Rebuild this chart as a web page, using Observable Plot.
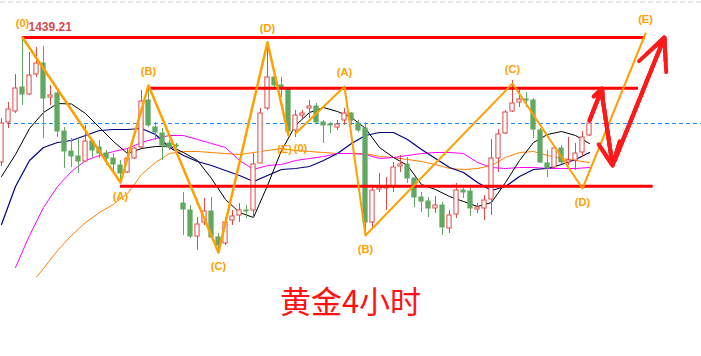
<!DOCTYPE html>
<html><head><meta charset="utf-8">
<script src="https://cdn.jsdelivr.net/npm/d3@7"></script>
<script src="https://cdn.jsdelivr.net/npm/@observablehq/plot@0.6"></script>
<style>
body{margin:0;background:#fff;width:701px;height:356px;overflow:hidden}
#title{width:701px;text-align:center;font-family:"Noto Sans CJK SC",sans-serif;font-size:31px;color:#ff1111;line-height:30px;padding-top:5px}
</style></head><body>
<div id="chart"></div>
<div id="title">黄金4小时</div>
<script>
// 4-hour gold candles (price units)
const opens = [1389.2,1405.2,1409.6,1419.2,1416.4,1424.4,1428.8,1415.2,1416.8,1401.6,
 1393.6,1391.6,1389.6,1397.6,1395.2,1392.8,1390.8,1388.0,1385.2,1390.8,
 1395.2,1414.0,1403.2,1400.8,1396.8,1396.0,1372.8,1370.0,1359.6,1365.2,
 1369.6,1359.2,1356.8,1366.0,1368.0,1370.0,1370.0,1388.8,1410.8,1423.2,
 1420.0,1418.8,1402.0,1408.0,1410.8,1411.6,1405.2,1404.4,1403.2,1406.0,
 1408.8,1404.8,1402.8,1365.2,1378.4,1378.8,1379.6,1387.6,1388.4,1382.8,
 1375.2,1373.6,1370.8,1372.0,1362.8,1368.4,1378.0,1377.6,1370.4,1370.8,
 1374.4,1390.8,1400.8,1409.6,1413.2,1414.4,1414.0,1402.0,1388.8,1387.2,
 1394.8,1389.2,1390.0,1393.2,1400.0];
const highs = [1406.8,1413.2,1424.4,1439.21,1433.2,1435.2,1435.6,1420.0,1418.0,1403.2,
 1398.8,1398.8,1404.0,1398.0,1398.0,1394.0,1392.8,1390.0,1394.8,1395.2,
 1418.0,1420.0,1405.2,1402.8,1398.0,1396.8,1377.2,1372.0,1367.2,1374.8,
 1375.2,1360.8,1367.2,1370.0,1372.8,1372.0,1392.8,1410.8,1437.2,1424.8,
 1423.2,1419.2,1410.0,1410.0,1414.0,1412.8,1406.0,1405.2,1406.0,1410.8,
 1409.2,1406.0,1405.2,1380.0,1384.8,1383.2,1389.2,1392.0,1391.2,1383.2,
 1377.2,1375.2,1375.6,1373.2,1370.0,1380.8,1378.8,1378.8,1372.8,1376.0,
 1398.4,1402.4,1410.0,1422.0,1418.0,1417.2,1414.8,1402.8,1394.0,1395.2,
 1396.0,1399.2,1396.8,1401.6,1405.2];
const lows = [1387.6,1402.8,1408.8,1412.0,1416.0,1423.2,1398.8,1412.0,1399.2,1386.8,
 1387.2,1384.8,1389.2,1391.2,1390.8,1388.0,1385.2,1381.2,1384.8,1390.4,
 1394.8,1403.2,1398.0,1390.0,1394.0,1394.8,1360.0,1358.8,1354.0,1364.0,
 1358.8,1354.0,1356.0,1364.0,1365.2,1366.8,1366.8,1388.8,1410.0,1418.8,
 1415.2,1400.0,1399.2,1406.8,1406.8,1404.8,1396.8,1400.8,1402.0,1404.0,
 1404.0,1401.2,1361.2,1363.2,1377.2,1370.0,1377.2,1385.2,1380.8,1371.2,
 1369.2,1367.2,1368.8,1360.0,1360.8,1366.8,1374.8,1367.6,1368.8,1366.0,
 1368.0,1385.2,1400.4,1409.2,1411.2,1411.2,1398.8,1388.8,1383.2,1386.8,
 1388.4,1388.0,1386.0,1391.2,1399.6];
const closes = [1404.8,1410.4,1418.8,1416.4,1424.0,1428.8,1414.8,1416.0,1401.6,1393.6,
 1391.6,1389.6,1397.6,1394.0,1392.8,1390.8,1388.4,1384.8,1390.8,1394.8,
 1413.6,1404.0,1401.2,1396.0,1395.2,1395.6,1370.4,1359.6,1364.4,1369.6,
 1359.2,1356.0,1365.2,1367.6,1370.0,1369.6,1388.4,1408.8,1423.2,1420.0,
 1418.8,1401.6,1408.0,1408.8,1411.6,1405.2,1404.0,1404.0,1404.4,1408.8,
 1406.0,1402.0,1365.2,1378.0,1379.2,1379.6,1387.2,1388.4,1382.8,1375.2,
 1373.6,1370.8,1372.0,1363.2,1368.0,1378.0,1377.2,1370.8,1371.2,1374.0,
 1390.8,1400.4,1409.2,1412.8,1414.4,1414.0,1402.4,1389.2,1386.8,1394.8,
 1389.2,1390.0,1392.8,1399.2,1404.8];

// moving averages, read every second candle
const maBlackIdx = d3.range(0, 85, 2);
const maBlack = [1383.6,1392.4,1402.8,1409.2,1412.8,1412.6,1408.8,1403.2,1397.6,1392.8,
 1394.8,1395.6,1395.8,1393.2,1390.0,1382.8,1374.4,1369.2,1367.2,1380.0,
 1394.0,1404.0,1409.2,1411.2,1409.6,1407.2,1402.8,1395.2,1391.2,1388.0,
 1380.4,1378.4,1375.6,1373.6,1371.6,1373.2,1381.2,1390.0,1397.2,1400.4,
 1401.6,1400.0,1396.8];
const maNavyIdx = d3.range(0, 85, 2);
const maNavy = [1364.4,1379.6,1390.0,1395.2,1397.2,1398.0,1400.0,1402.0,1402.4,1402.4,
 1402.8,1400.4,1395.2,1392.0,1389.6,1388.0,1386.0,1384.0,1381.6,1384.0,
 1386.4,1386.8,1387.6,1390.0,1392.8,1396.8,1400.0,1401.2,1401.2,1398.4,
 1394.4,1390.8,1387.2,1385.2,1381.2,1378.0,1379.6,1383.6,1386.4,1386.8,
 1388.4,1390.4,1393.2];
const maMagentaIdx = d3.range(2, 85, 2);
const maMagenta = [1347.2,1360.0,1371.2,1379.6,1385.6,1390.0,1392.0,1393.6,1394.8,1397.2,
 1398.8,1400.0,1400.0,1398.4,1396.8,1395.2,1390.0,1386.4,1388.0,1388.4,
 1390.0,1390.8,1391.6,1392.8,1392.8,1392.4,1390.8,1391.2,1392.0,1392.8,
 1393.2,1393.2,1392.8,1389.2,1387.2,1386.8,1387.2,1387.2,1386.8,1386.8,
 1386.8,1387.2];
const maOrangeIdx = [5, ...d3.range(6, 85, 2)];
const maOrange = [1343.4,1346.8,1354.0,1360.0,1365.2,1369.2,1372.5,1376.8,1384.4,1389.2,
 1392.8,1393.6,1393.6,1393.2,1392.8,1392.4,1393.2,1394.0,1394.8,1394.0,
 1393.6,1393.2,1392.8,1392.8,1392.8,1391.6,1391.2,1390.4,1389.6,1388.4,
 1386.8,1386.4,1386.8,1388.0,1391.2,1393.2,1393.6,1392.0,1390.8,1390.0,
 1389.2];

// wave patterns
const waveLabels = ["(0)","(A)","(B)","(C)","(D)","(E)"];
const wave1Idx = [3, 17, 21, 31, 38, 41];
const wave1Price = [1439.21, 1381.2, 1420.0, 1353.2, 1437.3, 1400.0];
const wave1Pos = ["above","below","above","below","above","belowLeft"];
const wave2Idx = [42, 49, 52, 73, 83, 92];
const wave2Price = [1400.8, 1419.6, 1360.0, 1420.8, 1378.8, 1440.8];
const wave2Pos = ["belowRight","above","below","above","below","above"];

// horizontal levels
const levelPrice = [1439.21, 1418.9, 1379.7];
const levelFrom = [3, 21, 17];
const levelTo = [92, 91, 93.1];
const lastPrice = 1404.8;
const topBorder = 1453.4;
const highLabel = "1439.21";

// forecast arrows
const arrowFromIdx = [84, 85.7, 87.6];
const arrowFromPrice = [1406.0, 1418.0, 1390.0];
const arrowToIdx = [85.8, 87.3, 94.7];
const arrowToPrice = [1418.8, 1388.0, 1439.2];

const candles = opens.map((o, i) => ({i, open: o, high: highs[i], low: lows[i], close: closes[i], up: closes[i] >= o}));
const ma = (idx, vals) => idx.map((i, k) => ({i, v: vals[k]}));
const wave = (idx, pr, pos) => idx.map((i, k) => ({i, p: pr[k], label: waveLabels[k], pos: pos[k]}));
const w1 = wave(wave1Idx, wave1Price, wave1Pos);
const w2 = wave(wave2Idx, wave2Price, wave2Pos);
const waves = [...w1, ...w2];
const levels = levelPrice.map((p, k) => ({p, from: levelFrom[k], to: levelTo[k]}));
const arrows = arrowFromIdx.map((a, k) => ({x1: a, y1: arrowFromPrice[k], x2: arrowToIdx[k], y2: arrowToPrice[k]}));

const RED = "#e04848", GREEN = "#62a862", ZIG = "#ffa000";
const lab = {fontFamily: "Liberation Sans, Arial, sans-serif", fontSize: 11, fontWeight: "bold", fill: ZIG};
const arrowOpts = {x1: "x1", y1: "y1", x2: "x2", y2: "y2", stroke: "#ff1a1a", headAngle: 50};

const chart = Plot.plot({
  width: 701, height: 280, margin: 0,
  x: {domain: [-1/7, 100], axis: null},
  y: {domain: [1342, 1454], axis: null},
  style: {background: "#fff"},
  marks: [
    Plot.ruleY([topBorder], {stroke: "#cfcfcf", strokeDasharray: "5,3"}),
    Plot.ruleY([lastPrice], {stroke: "#1e8fff", strokeDasharray: "4,3"}),
    Plot.line(ma(maOrangeIdx, maOrange), {x: "i", y: "v", stroke: "#ff8000", strokeWidth: 1}),
    Plot.line(ma(maMagentaIdx, maMagenta), {x: "i", y: "v", stroke: "#ff00ff", strokeWidth: 1}),
    Plot.line(ma(maNavyIdx, maNavy), {x: "i", y: "v", stroke: "#000080", strokeWidth: 1.2}),
    Plot.line(ma(maBlackIdx, maBlack), {x: "i", y: "v", stroke: "#000000", strokeWidth: 1}),
    Plot.ruleX(candles, {x: "i", y1: "low", y2: "high", stroke: d => d.up ? RED : GREEN, strokeWidth: 1}),
    Plot.rect(candles, {x1: d => d.i - 0.3, x2: d => d.i + 0.3, y1: "open", y2: "close",
      fill: d => d.up ? "#ffffff" : GREEN, stroke: d => d.up ? RED : GREEN, strokeWidth: 1}),
    Plot.ruleY(levels, {y: "p", x1: "from", x2: "to", stroke: "#ff0000", strokeWidth: 3}),
    Plot.line(w1, {x: "i", y: "p", stroke: ZIG, strokeWidth: 2.5}),
    Plot.line(w2, {x: "i", y: "p", stroke: ZIG, strokeWidth: 2}),
    Plot.text(waves.filter(d => d.pos === "above"), {x: "i", y: "p", text: "label", dy: -14, ...lab}),
    Plot.text(waves.filter(d => d.pos === "below"), {x: "i", y: "p", text: "label", dy: 14, ...lab}),
    Plot.text(waves.filter(d => d.pos === "belowLeft"), {x: "i", y: "p", text: "label", dy: 14, dx: -4, ...lab}),
    Plot.text(waves.filter(d => d.pos === "belowRight"), {x: "i", y: "p", text: "label", dy: 15, dx: 5, ...lab}),
    Plot.text([{i: wave1Idx[0], p: wave1Price[0], t: highLabel}], {x: "i", y: "p", text: "t", dx: 6, dy: -10, textAnchor: "start",
      fill: "#d44c4c", fontSize: 12, fontWeight: "bold", fontFamily: "Liberation Sans, Arial, sans-serif"}),
    Plot.arrow(arrows, {...arrowOpts, strokeWidth: 4, headLength: 13}),
    Plot.arrow(arrows, {...arrowOpts, strokeWidth: 4, headLength: 9}),
    Plot.arrow(arrows, {...arrowOpts, strokeWidth: 4, headLength: 5})
  ]
});
document.getElementById("chart").appendChild(chart);
</script>
</body></html>
